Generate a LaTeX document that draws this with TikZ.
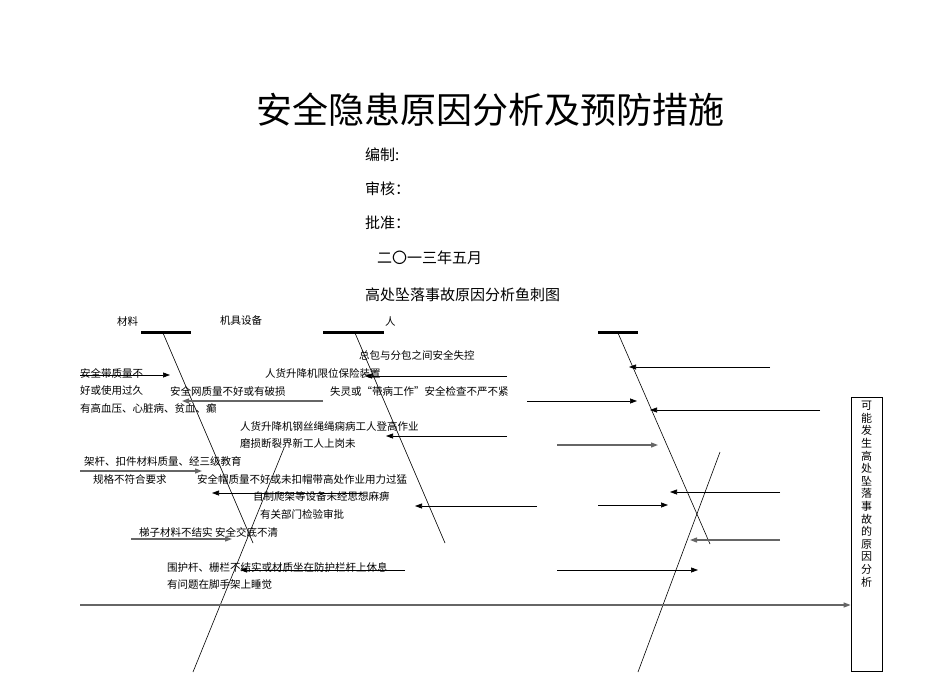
\documentclass[tikz,border=0pt]{standalone}
\usepackage{fontspec}
\setmainfont{Noto Sans CJK SC}
\usetikzlibrary{arrows.meta}
\begin{document}
\begin{tikzpicture}[x=1pt,y=-1pt,
  lbl/.style={anchor=west,inner sep=0pt,font=\fontsize{10.5}{12}\selectfont},
  hd/.style={anchor=west,inner sep=0pt,font=\fontsize{15}{18}\selectfont},
  bone/.style={line width=0.6pt},
  arr/.style={line width=0.7pt,-{Triangle[length=7pt,width=5pt]}},
  garr/.style={arr,draw=gray!80!black,line width=1.2pt},
  bar/.style={line width=3pt}]
\useasboundingbox (0,0) rectangle (950,672);
\node[inner sep=0pt,font=\fontsize{36}{40}\selectfont] (title) at (490,110) {安全隐患原因分析及预防措施};
\node[hd] (t1) at (365,155) {编制:};
\node[hd] (t2) at (365,189) {审核：};
\node[hd] (t3) at (365,223) {批准：};
\node[hd] (t4) at (377,258) {二〇一三年五月};
\node[hd] (t5) at (365,295) {高处坠落事故原因分析鱼刺图};
\node[lbl] (c1) at (117,321) {材料};
\node[lbl] (c2) at (220,321) {机具设备};
\node[lbl] (c3) at (385,321) {人};
% bars
\draw[bar] (141,332) -- (191,332);
\draw[bar] (323,332) -- (384,332);
\draw[bar] (598,332) -- (638,332);
% diagonals
\coordinate (d1a) at (163,333); \coordinate (d1b) at (253,543);
\coordinate (d2a) at (355,333); \coordinate (d2b) at (445,543);
\coordinate (d3a) at (618,333); \coordinate (d3b) at (710,544);
\coordinate (u1a) at (284,448); \coordinate (u1b) at (193,672);
\coordinate (u2a) at (720,452); \coordinate (u2b) at (638,672);
\draw[bone] (d1a) -- (d1b);
\draw[bone] (d2a) -- (d2b);
\draw[bone] (d3a) -- (d3b);
\draw[bone] (u1a) -- (u1b);
\draw[bone] (u2a) -- (u2b);
% spine and box
\node[draw,line width=0.8pt,minimum width=31pt,minimum height=274pt,inner sep=0pt] (box) at (866.5,534) {};
\node[inner sep=0pt,anchor=north,align=center,font=\fontsize{11}{12.6}\selectfont] (boxt) at (866.5,401) {可\\能\\发\\生\\高\\处\\坠\\落\\事\\故\\的\\原\\因\\分\\析};
\coordinate (sp) at (80,605);
\draw[garr] (sp) -- (box.west |- sp);
% arrows
\foreach \a/\b/\y/\s in {80/170/375/arr,507/365/376/arr,323/182/401/garr,507/386/436/arr,
  80/202/471/garr,363/212/493/arr,537/415/506/arr,131/232/539/garr,405/240/570/arr,
  770/629/367/arr,527/637/401/arr,820/650/410/arr,557/658/445/garr,780/670/492/arr,
  598/668/505/arr,780/690/540/garr,557/698/570/arr}
  {\coordinate (s) at (\a,\y); \coordinate (e) at (\b,\y); \draw[\s] (s) -- (e);}
% labels
\node[lbl] at (359,355) {总包与分包之间安全失控};
\node[lbl] at (80,373) {安全带质量不};
\node[lbl] at (265,373) {人货升降机限位保险装置};
\node[lbl] at (80,391) {好或使用过久};
\node[lbl] at (170,391) {安全网质量不好或有破损};
\node[lbl] at (330,391) {失灵或“带病工作”安全检查不严不紧};
\node[lbl] at (80,409) {有高血压、心脏病、贫血、癫};
\node[lbl] at (240,426) {人货升降机钢丝绳绳痫病工人登高作业};
\node[lbl] at (240,444) {磨损断裂界新工人上岗未};
\node[lbl] at (84,461) {架杆、扣件材料质量、经三级教育};
\node[lbl] at (93,479) {规格不符合要求};
\node[lbl] at (197,479) {安全帽质量不好或未扣帽带高处作业用力过猛};
\node[lbl] at (253,496) {自制爬架等设备未经思想麻痹};
\node[lbl] at (260,514) {有关部门检验审批};
\node[lbl] at (139,532) {梯子材料不结实 安全交底不清};
\node[lbl] at (167,567) {围护杆、栅栏不结实或材质坐在防护栏杆上休息};
\node[lbl] at (167,585) {有问题在脚手架上睡觉};
\end{tikzpicture}
\end{document}
